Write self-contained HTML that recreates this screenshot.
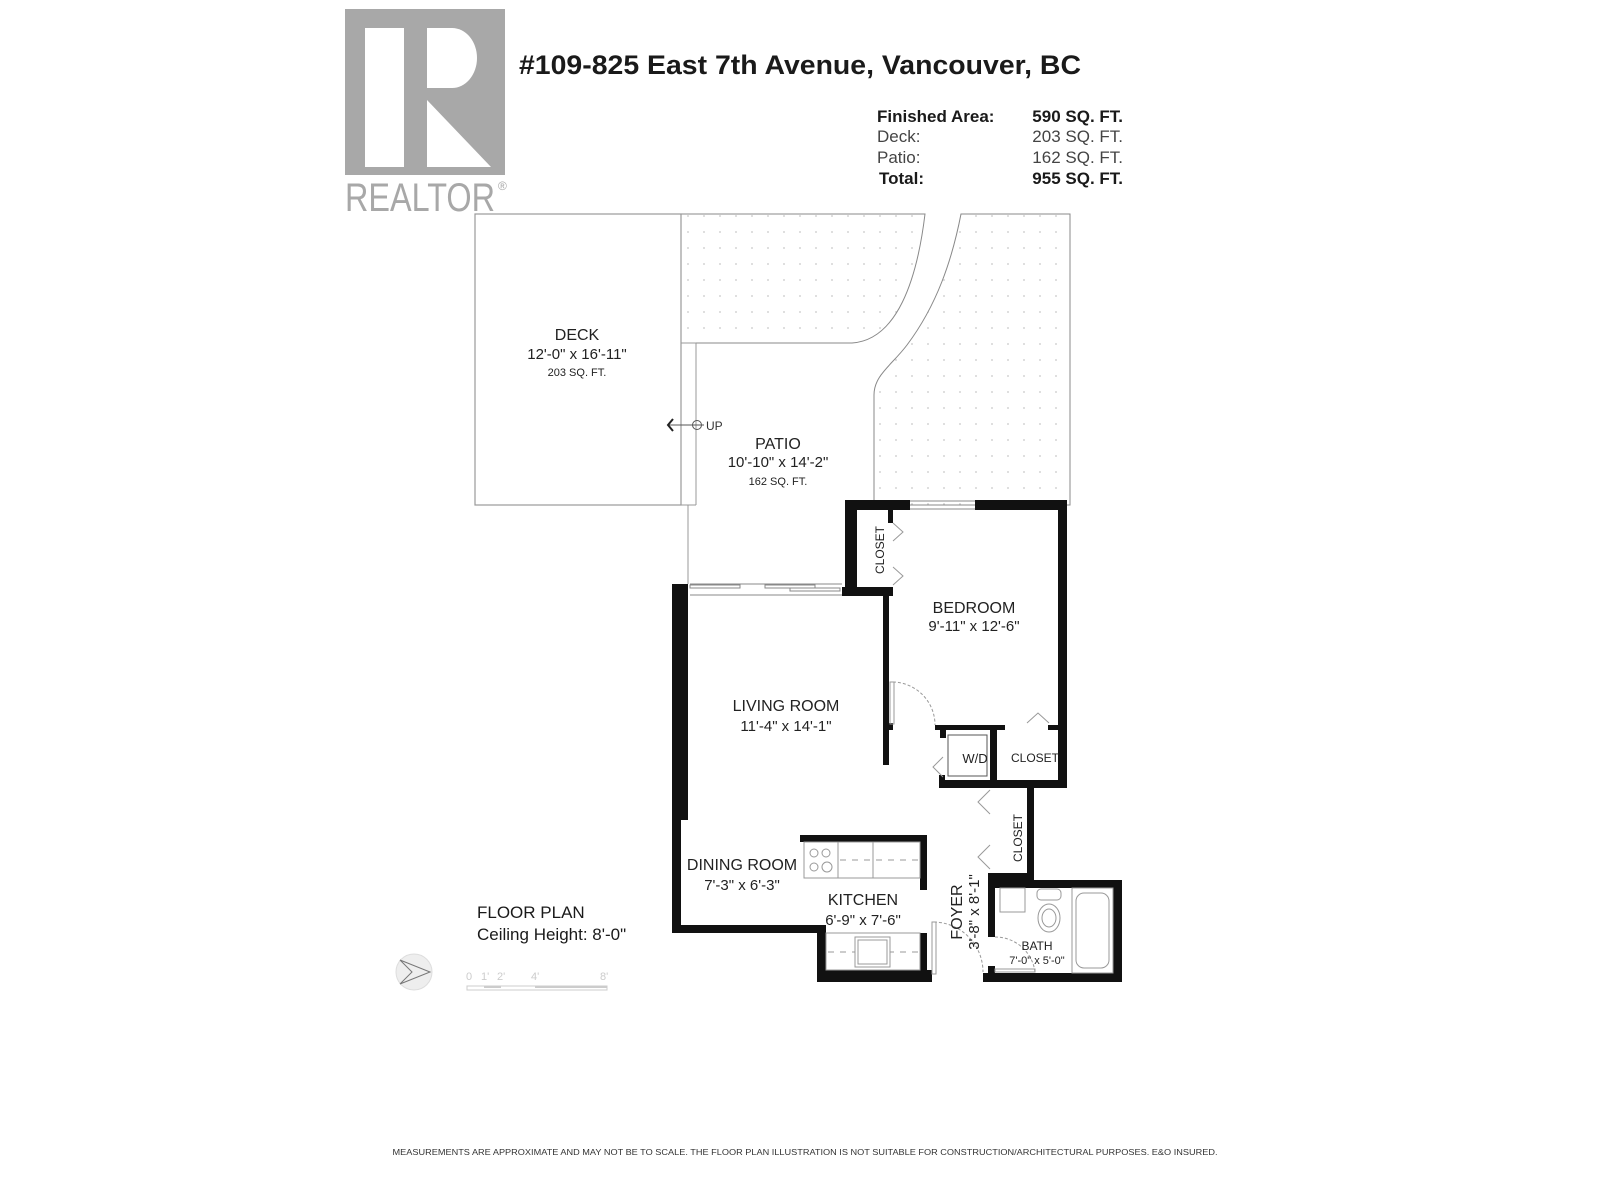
<!DOCTYPE html>
<html><head><meta charset="utf-8"><style>
html,body{margin:0;padding:0;background:#fff;}
svg{display:block;}
text{font-family:"Liberation Sans",sans-serif;}
</style></head><body>
<svg width="1600" height="1200" viewBox="0 0 1600 1200" xmlns="http://www.w3.org/2000/svg">
<defs>
<pattern id="dots" x="0" y="0" width="16" height="16" patternUnits="userSpaceOnUse">
<circle cx="8" cy="8" r="0.9" fill="#c8c8c8"/>
</pattern>
</defs>
<rect width="1600" height="1200" fill="#fff"/>

<!-- Logo -->
<g transform="translate(-3,0)">
<rect x="348" y="9" width="160" height="166" fill="#a8a8a8"/>
<rect x="368" y="28" width="39" height="139" fill="#fff"/>
<path d="M430 28 H455 A25 30 0 0 1 455 88 H430 Z" fill="#fff"/>
<polygon points="430,100 430,167 494,167" fill="#fff"/>
<text x="348" y="211" font-size="40" fill="#a8a8a8" textLength="150" lengthAdjust="spacingAndGlyphs">REALTOR</text>
<text x="501" y="190" font-size="12" fill="#a8a8a8">®</text>
</g>

<!-- Title -->
<text x="519" y="74" font-size="27" font-weight="bold" fill="#1a1a1a" textLength="562" lengthAdjust="spacingAndGlyphs">#109-825 East 7th Avenue, Vancouver, BC</text>
<g font-size="17" fill="#1a1a1a">
<text x="877" y="122" font-weight="bold">Finished Area:</text>
<text x="1123" y="122" font-weight="bold" text-anchor="end">590 SQ. FT.</text>
<text x="877" y="142" fill="#444">Deck:</text>
<text x="1123" y="142" text-anchor="end" fill="#444">203 SQ. FT.</text>
<text x="877" y="163" fill="#444">Patio:</text>
<text x="1123" y="163" text-anchor="end" fill="#444">162 SQ. FT.</text>
<text x="879" y="184" font-weight="bold">Total:</text>
<text x="1123" y="184" font-weight="bold" text-anchor="end">955 SQ. FT.</text>
</g>

<g transform="translate(-8,0)">
<path d="M689 214 H933 C925 280 905 340 860 343 H689 Z" fill="url(#dots)" stroke="#888" stroke-width="1"/>
<path d="M969 214 H1078 V505 H882 V395 C882 375 900 365 915 345 C945 305 960 260 969 214 Z" fill="url(#dots)" stroke="#888" stroke-width="1"/>
<rect x="483" y="214" width="206" height="291" fill="#fff" stroke="#999" stroke-width="1.2"/>
<line x1="689" y1="343" x2="704" y2="343" stroke="#999"/>
<line x1="704" y1="343" x2="704" y2="505" stroke="#999"/>
<line x1="689" y1="505" x2="704" y2="505" stroke="#999"/>
<line x1="696" y1="505" x2="696" y2="584" stroke="#999"/>
<line x1="677" y1="425" x2="712" y2="425" stroke="#555"/>
<circle cx="705" cy="425" r="4.5" fill="none" stroke="#555"/>
<path d="M681 419 L676 425 L681 431" fill="none" stroke="#222" stroke-width="2"/>
<text x="714" y="430" font-size="12" fill="#333">UP</text>
</g>

<!-- Walls -->
<g fill="#111">
<rect x="672" y="584" width="16" height="236"/>
<rect x="672" y="820" width="9" height="113"/>
<rect x="672" y="925" width="154" height="8"/>
<rect x="817" y="925" width="9" height="57"/>
<rect x="817" y="970" width="115" height="12"/>
<rect x="920" y="933" width="7" height="49"/>
<rect x="800" y="835" width="127" height="7"/>
<rect x="920" y="835" width="7" height="55"/>
<rect x="988" y="873" width="45" height="15"/>
<rect x="988" y="880" width="134" height="8"/>
<rect x="1113" y="880" width="9" height="102"/>
<rect x="983" y="973" width="139" height="9"/>
<rect x="988" y="873" width="7" height="64"/>
<rect x="988" y="966" width="7" height="12"/>
<rect x="1027" y="788" width="7" height="92"/>
<rect x="939" y="780" width="128" height="8"/>
<rect x="1058" y="500" width="9" height="288"/>
<rect x="845" y="500" width="65" height="10"/>
<rect x="975" y="500" width="92" height="10"/>
<rect x="845" y="500" width="12" height="96"/>
<rect x="842" y="587" width="51" height="9"/>
<rect x="888" y="510" width="5" height="13"/>
<rect x="883" y="596" width="6" height="169"/>
<rect x="888" y="723" width="5" height="7"/>
<rect x="935" y="725" width="70" height="5"/>
<rect x="940" y="730" width="6" height="8"/>
<rect x="990" y="725" width="7" height="63"/>
<rect x="1048" y="725" width="10" height="5"/>
<rect x="939" y="775" width="6" height="13"/>
</g>
<g stroke="#888" stroke-width="1" fill="none">
<line x1="910" y1="501" x2="975" y2="501"/><line x1="910" y1="509" x2="975" y2="509"/>
<line x1="690" y1="584" x2="842" y2="584"/><line x1="690" y1="595" x2="842" y2="595"/>
<rect x="690" y="585" width="50" height="3"/><rect x="765" y="585" width="50" height="3"/><rect x="790" y="588" width="50" height="3"/>
</g>
<g stroke="#999" stroke-width="1" fill="none">
<rect x="890" y="682" width="4" height="42"/>
<path d="M893 682 A43 43 0 0 1 935 725" stroke-dasharray="3 2"/>
<rect x="932" y="922" width="4" height="52"/>
<path d="M934 922 A50 50 0 0 1 983 972" stroke-dasharray="3 2"/>
<path d="M995 937 A40 40 0 0 1 1035 972" stroke-dasharray="3 2"/>
<rect x="995" y="969" width="40" height="3"/>
<rect x="948" y="735" width="39" height="41" stroke="#555"/>
<path d="M893 523 L903 532 L893 541"/><path d="M893 567 L903 576 L893 585"/>
<path d="M943 757 L933 767 L943 777"/>
<path d="M1027 723 L1038 713 L1049 723"/>
<path d="M990 790 L978 802 L990 814"/><path d="M990 845 L978 857 L990 869"/>
<rect x="804" y="842" width="116" height="36"/>
<line x1="838" y1="842" x2="838" y2="878"/><line x1="873" y1="842" x2="873" y2="878"/>
<line x1="840" y1="860" x2="918" y2="860" stroke-dasharray="6 6"/>
<circle cx="814" cy="853" r="4"/><circle cx="826" cy="853" r="4"/><circle cx="814" cy="867" r="4"/><circle cx="827" cy="867" r="5"/>
<rect x="826" y="933" width="94" height="37"/>
<line x1="828" y1="952" x2="918" y2="952" stroke-dasharray="6 6"/>
<rect x="855" y="937" width="35" height="30" fill="#fff"/><rect x="858" y="940" width="29" height="24"/>
<rect x="1072" y="888" width="41" height="85"/>
<rect x="1076" y="893" width="33" height="75" rx="8"/>
<rect x="1000" y="888" width="25" height="24"/>
<rect x="1037" y="889" width="24" height="11" rx="4"/>
<ellipse cx="1049" cy="918" rx="11" ry="14"/><ellipse cx="1049" cy="918" rx="7" ry="9"/>
</g>

<g fill="#222" text-anchor="middle" transform="translate(-8,-7)">
<text x="585" y="347" font-size="16">DECK</text>
<text x="585" y="366" font-size="15">12'-0" x  16'-11"</text>
<text x="585" y="383" font-size="11">203 SQ. FT.</text>
<text x="786" y="456" font-size="16">PATIO</text>
<text x="786" y="474" font-size="15">10'-10" x 14'-2"</text>
<text x="786" y="492" font-size="11">162 SQ. FT.</text>
<text x="982" y="620" font-size="16">BEDROOM</text>
<text x="982" y="638" font-size="15">9'-11" x 12'-6"</text>
<text x="794" y="718" font-size="16">LIVING ROOM</text>
<text x="794" y="738" font-size="15">11'-4" x 14'-1"</text>
<text x="750" y="877" font-size="16">DINING ROOM</text>
<text x="750" y="897" font-size="15">7'-3" x 6'-3"</text>
<text x="871" y="912" font-size="16">KITCHEN</text>
<text x="871" y="932" font-size="15">6'-9" x 7'-6"</text>
<text x="1045" y="957" font-size="12">BATH</text>
<text x="1045" y="971" font-size="11">7'-0" x 5'-0"</text>
<text x="983" y="770" font-size="13">W/D</text>
<text x="1043" y="769" font-size="12">CLOSET</text>
</g>
<g fill="#222" text-anchor="middle">
<text transform="translate(884,550) rotate(-90)" font-size="12">CLOSET</text>
<text transform="translate(1022,838) rotate(-90)" font-size="12">CLOSET</text>
<text transform="translate(962,912) rotate(-90)" font-size="16">FOYER</text>
<text transform="translate(979,912) rotate(-90)" font-size="15">3'-8" x 8'-1"</text>
</g>
<text x="477" y="918" font-size="17" fill="#1a1a1a">FLOOR PLAN</text>
<text x="477" y="940" font-size="17" fill="#1a1a1a">Ceiling Height: 8'-0"</text>

<circle cx="414" cy="972" r="18" fill="#eee" stroke="#ddd"/>
<path d="M400 960 L430 972 L400 984 L412 972 Z" fill="none" stroke="#777" stroke-width="1"/>
<g fill="#ccc" font-size="11">
<text x="466" y="980">0</text><text x="481" y="980">1'</text><text x="497" y="980">2'</text><text x="531" y="980">4'</text><text x="600" y="980">8'</text>
</g>
<rect x="467" y="986" width="140" height="4" fill="none" stroke="#ccc"/>
<rect x="484" y="986" width="17" height="2" fill="#ccc"/><rect x="535" y="986" width="72" height="2" fill="#ccc"/>

<text x="805" y="1155" font-size="8" fill="#333" text-anchor="middle" textLength="825" lengthAdjust="spacingAndGlyphs">MEASUREMENTS ARE APPROXIMATE AND MAY NOT BE TO SCALE. THE FLOOR PLAN ILLUSTRATION IS NOT SUITABLE FOR CONSTRUCTION/ARCHITECTURAL PURPOSES. E&amp;O INSURED.</text>
</svg>
</body></html>
